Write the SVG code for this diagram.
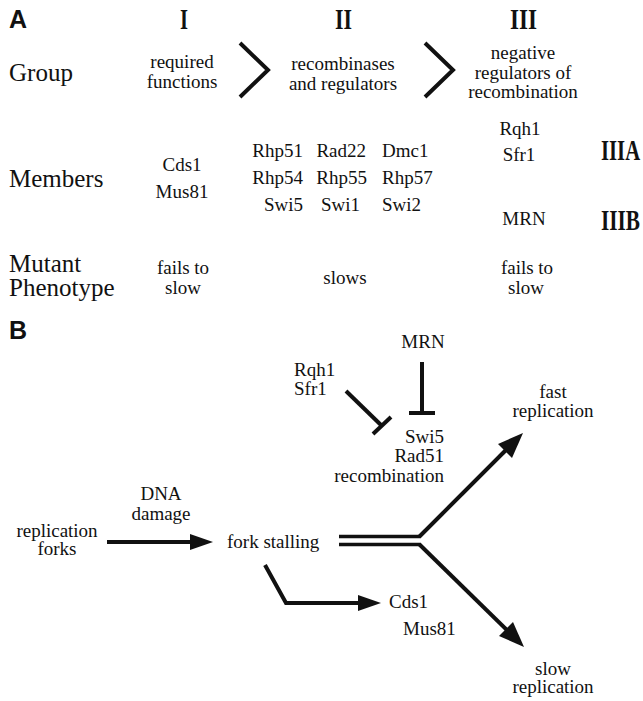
<svg xmlns="http://www.w3.org/2000/svg" width="643" height="701" viewBox="0 0 643 701">
<defs>
<style>
.t{font-family:"Liberation Serif","DejaVu Serif",serif;font-size:19px;fill:#111;}
.c{text-anchor:middle;}
.e{text-anchor:end;}
.big{font-family:"Liberation Serif","DejaVu Serif",serif;font-size:25px;fill:#111;}
.rn{font-family:"Liberation Serif","DejaVu Serif",serif;font-size:30px;font-weight:bold;fill:#111;}
.lab{font-family:"Liberation Sans",Arial,sans-serif;font-size:25px;font-weight:bold;fill:#111;}
.ln{stroke:#111;stroke-width:4;fill:none;}
.dl{stroke:#111;stroke-width:3.5;}
.hd{fill:#111;}
</style>
</defs>
<rect width="643" height="701" fill="#fff"/>

<g id="panelA">
<text class="lab" x="9" y="28">A</text>
<g id="numerals">
<text class="rn" x="180" y="29" textLength="8" lengthAdjust="spacingAndGlyphs">I</text>
<text class="rn" x="335" y="29" textLength="17" lengthAdjust="spacingAndGlyphs">II</text>
<text class="rn" x="510" y="29" textLength="27" lengthAdjust="spacingAndGlyphs">III</text>
</g>
<g id="row-group">
<text class="big" x="9" y="81">Group</text>
<text class="t c" x="182" y="68">required</text>
<text class="t c" x="182" y="88">functions</text>
<text class="t c" x="343" y="70">recombinases</text>
<text class="t c" x="343" y="90">and regulators</text>
<text class="t c" x="523" y="59">negative</text>
<text class="t c" x="523" y="79">regulators of</text>
<text class="t c" x="523" y="98">recombination</text>
</g>
<g id="chevrons">
<polyline class="ln" points="240,43 268,70 240,97"/>
<polyline class="ln" points="425,43 453,70 425,97"/>
</g>
<g id="row-members">
<text class="big" x="9" y="187">Members</text>
<text class="t c" x="182" y="171">Cds1</text>
<text class="t c" x="182" y="198">Mus81</text>
<text class="t e" x="303" y="157">Rhp51</text>
<text class="t e" x="303" y="184">Rhp54</text>
<text class="t e" x="303" y="211">Swi5</text>
<text class="t e" x="366" y="157">Rad22</text>
<text class="t e" x="367" y="184">Rhp55</text>
<text class="t e" x="360" y="211">Swi1</text>
<text class="t" x="382" y="157">Dmc1</text>
<text class="t" x="382" y="184">Rhp57</text>
<text class="t" x="382" y="211">Swi2</text>
<text class="t c" x="520" y="135">Rqh1</text>
<text class="t c" x="519" y="161">Sfr1</text>
<text class="t c" x="524" y="225">MRN</text>
<text class="rn" transform="translate(601,160) scale(0.69,1)">IIIA</text>
<text class="rn" transform="translate(601,230) scale(0.71,1)">IIIB</text>
</g>
<g id="row-phenotype">
<text class="big" x="9" y="272">Mutant</text>
<text class="big" x="9" y="296">Phenotype</text>
<text class="t c" x="183" y="274">fails to</text>
<text class="t c" x="183" y="294">slow</text>
<text class="t c" x="345" y="284">slows</text>
<text class="t c" x="527" y="274">fails to</text>
<text class="t c" x="526" y="294">slow</text>
</g>
</g>

<g id="panelB">
<text class="lab" x="9" y="339">B</text>
<g id="node-mrn"><text class="t c" x="423" y="348">MRN</text></g>
<g id="node-rqh1"><text class="t" x="294" y="376">Rqh1</text><text class="t" x="294" y="395">Sfr1</text></g>
<g id="node-swi5"><text class="t e" x="444" y="443">Swi5</text><text class="t e" x="444" y="462">Rad51</text><text class="t e" x="444" y="482">recombination</text></g>
<g id="node-forks"><text class="t c" x="57" y="537">replication</text><text class="t c" x="57" y="555">forks</text></g>
<g id="node-dna"><text class="t c" x="161" y="500">DNA</text><text class="t c" x="161" y="520">damage</text></g>
<g id="node-stall"><text class="t" x="227" y="548">fork stalling</text></g>
<g id="node-cds1"><text class="t" x="389" y="608">Cds1</text></g>
<g id="node-mus81"><text class="t" x="403" y="635">Mus81</text></g>
<g id="node-fast"><text class="t c" x="553" y="398">fast</text><text class="t c" x="553" y="417">replication</text></g>
<g id="node-slow"><text class="t c" x="553" y="675">slow</text><text class="t c" x="553" y="693">replication</text></g>

<g id="connectors">
<line class="ln" x1="422" y1="362" x2="422" y2="413"/>
<line class="ln" x1="409" y1="413" x2="435" y2="413"/>
<line class="ln" x1="346" y1="391" x2="382" y2="426"/>
<line class="ln" x1="373" y1="434" x2="391" y2="417"/>
<line class="ln" x1="107" y1="542" x2="192" y2="542"/>
<polygon class="hd" points="190,534 213,542 190,550"/>
<polyline class="ln" points="265,565 286,603 360,603"/>
<polygon class="hd" points="358,595 381,603 358,611"/>
<line class="dl" x1="339" y1="536.5" x2="420" y2="536.5"/>
<line class="dl" x1="339" y1="544.5" x2="420" y2="544.5"/>
<line class="ln" x1="419" y1="537" x2="508" y2="448"/>
<polygon class="hd" points="523,433 512,458 498,444"/>
<line class="ln" x1="419" y1="544" x2="509" y2="632"/>
<polygon class="hd" points="524,647 499,636 513,622"/>
</g>
</g>
</svg>
